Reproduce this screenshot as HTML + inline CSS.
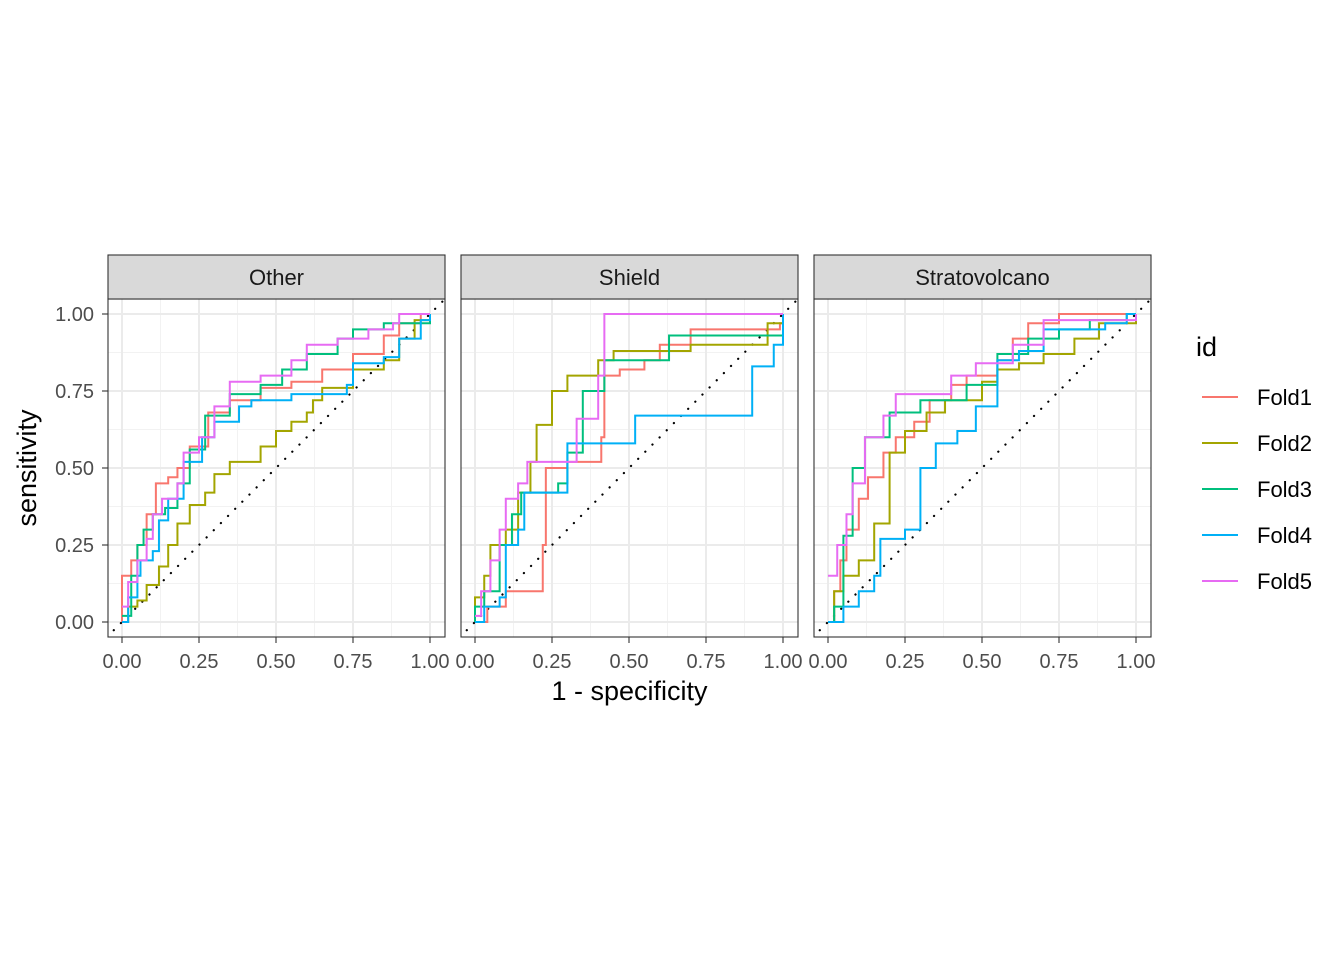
<!DOCTYPE html>
<html><head><meta charset="utf-8">
<style>
body{margin:0;background:#fff;}
svg text{font-family:"Liberation Sans",sans-serif;}
</style></head>
<body>
<svg id="chart" width="1344" height="960" xmlns="http://www.w3.org/2000/svg"></svg>
<script>
const facets = ["Other","Shield","Stratovolcano"];
const folds = ["Fold1","Fold2","Fold3","Fold4","Fold5"];
const colors = ["#F8766D","#A3A500","#00BF7D","#00B0F6","#E76BF3"];
const xTicks = [0,0.25,0.5,0.75,1];
const xTickLabels = ["0.00","0.25","0.50","0.75","1.00"];
const yTickLabels = ["0.00","0.25","0.50","0.75","1.00"];
const otherFold1 = [[0,0],[0,0.15],[0.03,0.15],[0.03,0.2],[0.05,0.25],[0.08,0.35],[0.11,0.35],[0.11,0.45],[0.15,0.47],[0.18,0.5],[0.22,0.57],[0.28,0.68],[0.35,0.72],[0.45,0.76],[0.55,0.78],[0.65,0.82],[0.75,0.87],[0.85,0.93],[0.9,0.97],[0.97,1],[1,1]];
const otherFold2 = [[0,0],[0.02,0.05],[0.05,0.07],[0.08,0.12],[0.12,0.18],[0.15,0.25],[0.18,0.32],[0.22,0.38],[0.27,0.42],[0.3,0.48],[0.35,0.52],[0.4,0.52],[0.45,0.57],[0.5,0.62],[0.55,0.65],[0.6,0.68],[0.62,0.72],[0.65,0.76],[0.7,0.76],[0.75,0.82],[0.85,0.85],[0.9,0.92],[0.95,0.98],[1,1]];
const otherFold3 = [[0,0.02],[0.03,0.15],[0.05,0.25],[0.07,0.3],[0.1,0.35],[0.14,0.37],[0.18,0.45],[0.22,0.56],[0.27,0.67],[0.35,0.74],[0.45,0.77],[0.52,0.82],[0.6,0.87],[0.7,0.92],[0.75,0.95],[0.85,0.97],[1,1]];
const otherFold4 = [[0,0],[0.02,0.08],[0.05,0.15],[0.06,0.2],[0.1,0.23],[0.12,0.33],[0.15,0.4],[0.2,0.52],[0.26,0.6],[0.3,0.65],[0.38,0.7],[0.42,0.72],[0.52,0.72],[0.55,0.74],[0.7,0.74],[0.73,0.77],[0.75,0.84],[0.85,0.86],[0.9,0.92],[0.97,0.98],[1,1]];
const otherFold5 = [[0,0.05],[0.02,0.13],[0.05,0.2],[0.08,0.27],[0.1,0.35],[0.13,0.4],[0.18,0.45],[0.2,0.55],[0.25,0.6],[0.3,0.7],[0.35,0.78],[0.45,0.8],[0.55,0.85],[0.6,0.9],[0.7,0.92],[0.8,0.95],[0.88,0.97],[0.9,1],[1,1]];
const shieldFold1 = [[0,0],[0.04,0.05],[0.1,0.1],[0.21,0.1],[0.22,0.25],[0.23,0.5],[0.3,0.52],[0.4,0.52],[0.41,0.6],[0.42,0.8],[0.47,0.82],[0.55,0.85],[0.6,0.9],[0.7,0.95],[0.95,0.95],[0.99,0.97],[1,1]];
const shieldFold2 = [[0,0],[0,0.08],[0.03,0.15],[0.05,0.25],[0.1,0.3],[0.14,0.42],[0.18,0.52],[0.2,0.64],[0.25,0.75],[0.3,0.8],[0.4,0.85],[0.45,0.88],[0.6,0.88],[0.7,0.9],[0.9,0.9],[0.95,0.97],[1,1]];
const shieldFold3 = [[0,0],[0,0.05],[0.03,0.1],[0.08,0.25],[0.12,0.35],[0.15,0.42],[0.27,0.45],[0.3,0.55],[0.35,0.75],[0.42,0.85],[0.63,0.87],[0.63,0.93],[0.93,0.93],[1,1]];
const shieldFold4 = [[0,0],[0.03,0.05],[0.08,0.08],[0.1,0.25],[0.14,0.3],[0.16,0.42],[0.28,0.42],[0.3,0.58],[0.5,0.58],[0.52,0.67],[0.83,0.67],[0.9,0.83],[0.97,0.9],[1,1]];
const shieldFold5 = [[0,0.02],[0.02,0.1],[0.05,0.2],[0.08,0.3],[0.1,0.4],[0.14,0.45],[0.17,0.52],[0.3,0.52],[0.33,0.66],[0.4,0.8],[0.42,0.85],[0.42,1],[1,1]];
const stratoFold1 = [[0,0],[0.02,0.1],[0.04,0.2],[0.06,0.3],[0.1,0.4],[0.13,0.47],[0.18,0.55],[0.22,0.6],[0.28,0.65],[0.33,0.72],[0.4,0.77],[0.45,0.8],[0.55,0.85],[0.6,0.92],[0.65,0.97],[0.75,1],[1,1]];
const stratoFold2 = [[0,0],[0.02,0.1],[0.05,0.15],[0.1,0.2],[0.15,0.32],[0.2,0.55],[0.25,0.62],[0.32,0.68],[0.38,0.72],[0.5,0.78],[0.55,0.82],[0.62,0.84],[0.7,0.87],[0.8,0.92],[0.88,0.97],[1,1]];
const stratoFold3 = [[0,0],[0.02,0.05],[0.05,0.28],[0.08,0.5],[0.12,0.6],[0.2,0.68],[0.3,0.72],[0.45,0.77],[0.55,0.87],[0.65,0.92],[0.75,0.95],[0.85,0.98],[0.97,1],[1,1]];
const stratoFold4 = [[0,0],[0.05,0.05],[0.1,0.1],[0.15,0.15],[0.17,0.27],[0.25,0.3],[0.3,0.38],[0.3,0.5],[0.35,0.58],[0.42,0.62],[0.48,0.7],[0.55,0.75],[0.55,0.85],[0.62,0.88],[0.7,0.95],[0.9,0.97],[0.97,1],[1,1]];
const stratoFold5 = [[0,0.15],[0.03,0.25],[0.06,0.35],[0.08,0.45],[0.12,0.6],[0.18,0.67],[0.22,0.74],[0.35,0.74],[0.4,0.8],[0.48,0.84],[0.6,0.9],[0.7,0.98],[1,1]];
const series = [
  [otherFold1,otherFold2,otherFold3,otherFold4,otherFold5],
  [shieldFold1,shieldFold2,shieldFold3,shieldFold4,shieldFold5],
  [stratoFold1,stratoFold2,stratoFold3,stratoFold4,stratoFold5]
];

const NS="http://www.w3.org/2000/svg";
const svg=document.getElementById("chart");
function mk(tag,attrs,parent){const e=document.createElementNS(NS,tag);for(const k in attrs)e.setAttribute(k,attrs[k]);(parent||svg).appendChild(e);return e;}
const panelLefts=[108,461,814];
const panelW=337, pTop=299, pBottom=637;
const yScale=v=>622-308*v;
const defs=mk("defs",{});
facets.forEach((f,i)=>{
  const L=panelLefts[i];
  const xScale=v=>L+14+308*v;
  const g=mk("g",{});
  
  
  const cp=mk("clipPath",{id:"cp"+i},defs);
  mk("rect",{x:L,y:pTop,width:panelW,height:pBottom-pTop},cp);
  mk("rect",{x:L,y:pTop,width:panelW,height:pBottom-pTop,fill:"#fff"},g);
  [0.125,0.375,0.625,0.875].forEach(v=>{
    mk("line",{x1:xScale(v),x2:xScale(v),y1:pTop,y2:pBottom,stroke:"#F2F2F2","stroke-width":1},g);
    mk("line",{x1:L,x2:L+panelW,y1:yScale(v),y2:yScale(v),stroke:"#F2F2F2","stroke-width":1},g);
  });
  xTicks.forEach(v=>{
    mk("line",{x1:xScale(v),x2:xScale(v),y1:pTop,y2:pBottom,stroke:"#EBEBEB","stroke-width":2},g);
    mk("line",{x1:L,x2:L+panelW,y1:yScale(v),y2:yScale(v),stroke:"#EBEBEB","stroke-width":2},g);
  });
  const cg=mk("g",{"clip-path":"url(#cp"+i+")"},g);
  const diag=mk("line",{x1:xScale(-0.05),y1:yScale(-0.05),x2:xScale(1.05),y2:yScale(1.05),stroke:"#000","stroke-width":2.2,"stroke-dasharray":"0.1 10","stroke-linecap":"round"},cg);
  
  
  series[i].forEach((pts,j)=>{
    let d="M"+xScale(pts[0][0])+","+yScale(pts[0][1]);
    for(let k=1;k<pts.length;k++){
      d+="L"+xScale(pts[k][0])+","+yScale(pts[k-1][1])+"L"+xScale(pts[k][0])+","+yScale(pts[k][1]);
    }
    const p=mk("path",{d:d,fill:"none",stroke:colors[j],"stroke-width":2},cg);
    
    
  });
  mk("rect",{x:L,y:pTop,width:panelW,height:pBottom-pTop,fill:"none",stroke:"#333","stroke-width":1.1},g);
  const s=mk("rect",{x:L,y:255,width:panelW,height:44,fill:"#D9D9D9",stroke:"#333","stroke-width":1.1},g);
  
  
  const st=mk("text",{x:L+panelW/2,y:285,"text-anchor":"middle","font-size":"22",fill:"#1A1A1A"},g);
  st.textContent=f;
  
  
  xTicks.forEach((v,k)=>{
    mk("line",{x1:xScale(v),x2:xScale(v),y1:pBottom,y2:pBottom+6,stroke:"#333","stroke-width":1.1},g);
    const t=mk("text",{x:xScale(v),y:668,"text-anchor":"middle","font-size":"20",fill:"#4D4D4D"},g);
    t.textContent=xTickLabels[k];
    
    
  });
});
xTicks.forEach((v,k)=>{
  mk("line",{x1:102,x2:108,y1:yScale(v),y2:yScale(v),stroke:"#333","stroke-width":1.1});
  const t=mk("text",{x:94,y:yScale(v)+7,"text-anchor":"end","font-size":"20",fill:"#4D4D4D"});
  t.textContent=yTickLabels[k];
  
  
});
const xt=mk("text",{x:629.5,y:700,"text-anchor":"middle","font-size":"27",fill:"#000"});
xt.textContent="1 - specificity";


const yt=mk("text",{x:36,y:468,"text-anchor":"middle","font-size":"27",fill:"#000",transform:"rotate(-90 36 468)"});
yt.textContent="sensitivity";


const lt=mk("text",{x:1196,y:356,"font-size":"27",fill:"#000"});
lt.textContent="id";


folds.forEach((f,j)=>{
  const y=397+46*j;
  const g=mk("g",{});
  
  
  mk("line",{x1:1202,x2:1238,y1:y,y2:y,stroke:colors[j],"stroke-width":2},g);
  const t=mk("text",{x:1257,y:y+8,"font-size":"22",fill:"#000"},g);
  t.textContent=f;
});
</script>
</body></html>
